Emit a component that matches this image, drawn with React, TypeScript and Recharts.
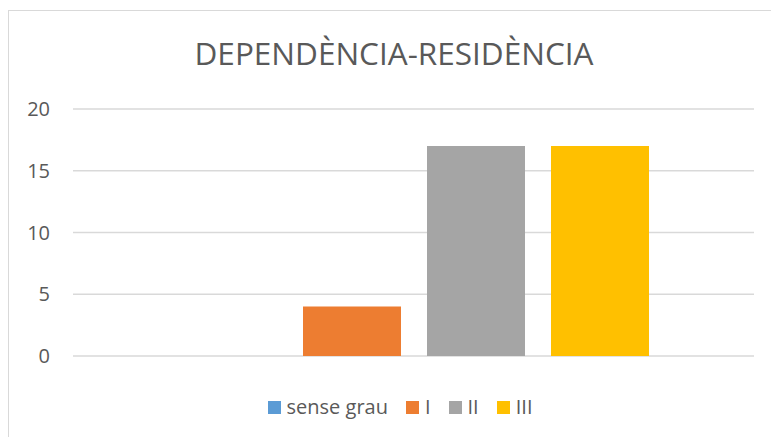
import React from 'react'
import {
  BarChart,
  Bar,
  XAxis,
  YAxis,
  CartesianGrid,
  Legend
} from 'recharts'

// One category, four dependency grades
const categories = ['Residència']
const seriesNames = ['sense grau', 'I', 'II', 'III']
const seriesValues = [0, 4, 17, 17]
const seriesColors = ['#5B9BD5', '#ED7D31', '#A5A5A5', '#FFC000']
const yTicks = [0, 5, 10, 15, 20]

const chartData = categories.map((cat) => {
  const row: any = { category: cat }
  seriesNames.forEach((name, i) => {
    row[name] = seriesValues[i]
  })
  return row
})

const textColor = '#595959'
const fontFamily = '"Open Sans", sans-serif'

// keep the legend in series order (recharts 3 sorts it by name otherwise)
function LegendContent() {
  return (
    <div style={{ display: 'flex', justifyContent: 'center', alignItems: 'center', height: 24 }}>
      {seriesNames.map((name, i) => (
        <div key={name} style={{ display: 'flex', alignItems: 'center', marginRight: i < seriesNames.length - 1 ? 18 : 0 }}>
          <span style={{ width: 13, height: 13, background: seriesColors[i], display: 'inline-block', marginRight: 6 }} />
          <span style={{ color: textColor, fontSize: 20, lineHeight: '24px', fontFamily }}>{name}</span>
        </div>
      ))}
    </div>
  )
}

export default function App() {
  return (
    <div style={{ position: 'fixed', left: 0, top: 0, width: 771, height: 437, overflow: 'hidden', background: '#fff' }}>
      <div style={{ position: 'absolute', left: 8, top: 10, width: 800, height: 500, border: '1px solid #D9D9D9', boxSizing: 'border-box' }} />
      <div style={{
        position: 'absolute', left: 0, width: 788, top: 33, textAlign: 'center',
        fontFamily, fontSize: 31.5, color: textColor, lineHeight: '40px'
      }}>
        DEPENDÈNCIA-RESIDÈNCIA
      </div>
      <div style={{ position: 'absolute', left: 0, top: 0 }}>
        <BarChart
          width={771}
          height={437}
          data={chartData}
          margin={{ top: 109, right: 17, left: 0, bottom: 81 }}
          barSize={98}
          barGap={26}
        >
          <CartesianGrid vertical={false} stroke="#D9D9D9" strokeWidth={1.3} />
          <XAxis dataKey="category" hide />
          <YAxis
            width={73}
            domain={[0, 20]}
            ticks={yTicks}
            axisLine={false}
            tickLine={false}
            tickSize={0}
            tickMargin={23}
            tick={{ fill: textColor, fontSize: 20, fontFamily }}
          />
          <Legend
            verticalAlign="middle"
            layout="horizontal"
            align="center"
            wrapperStyle={{ top: 395, left: 0, width: 800 }}
            content={<LegendContent />}
          />
          {seriesNames.map((name, i) => (
            <Bar key={name} dataKey={name} fill={seriesColors[i]} isAnimationActive={false} />
          ))}
        </BarChart>
      </div>
    </div>
  )
}
